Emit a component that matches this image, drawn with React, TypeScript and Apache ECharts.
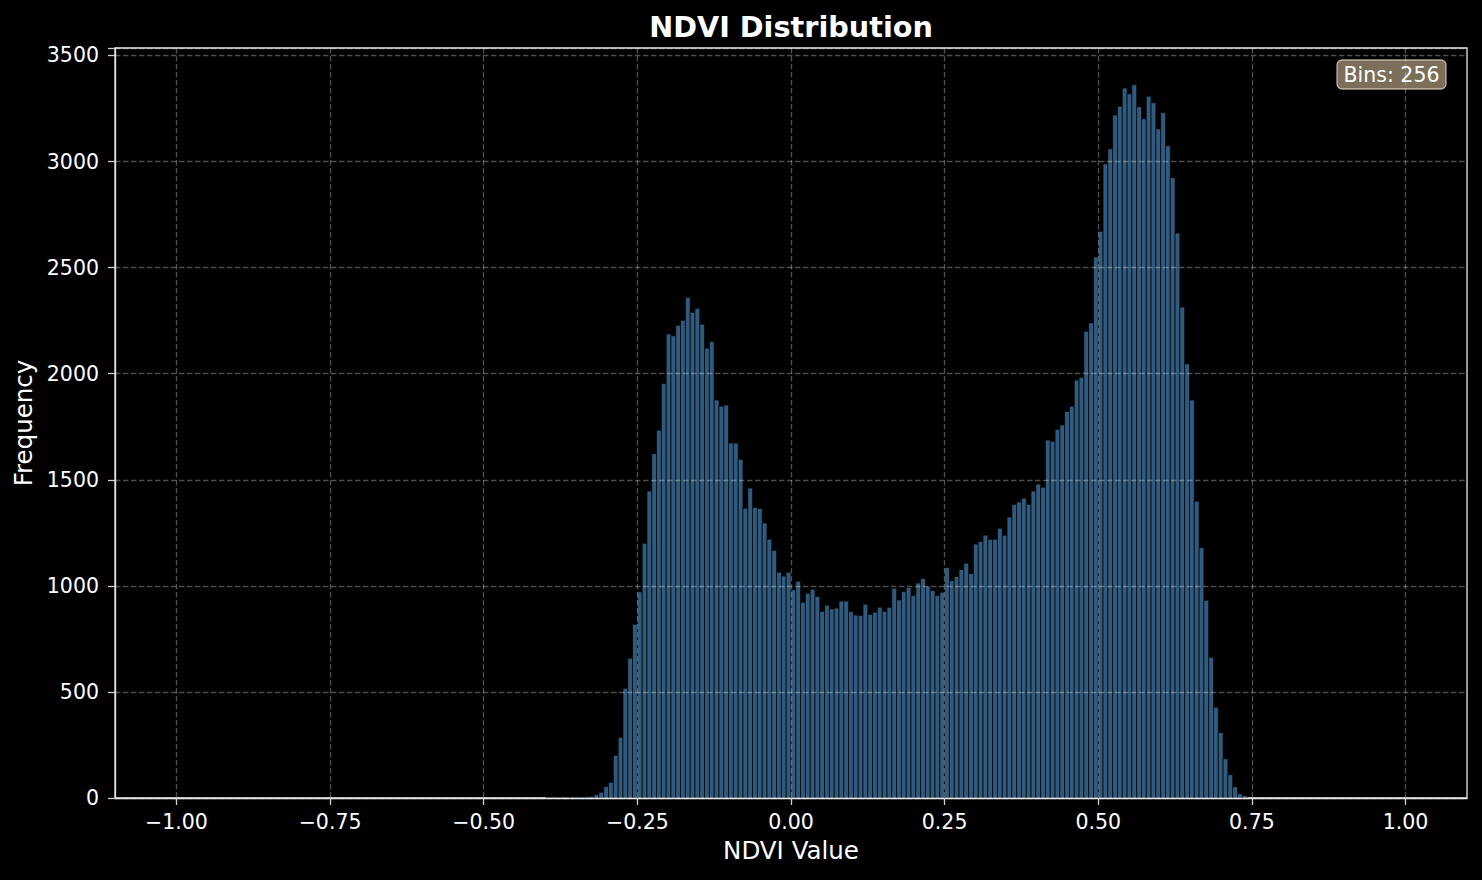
import React, { useEffect, useRef } from "react";
import * as echarts from "echarts";

// Histogram definition: 256 bins over [-1, 1]
const binRangeMin = -1;
const binRangeMax = 1;
const binCount = 256;
// index of the first non-empty bin, followed by the counts
const firstBin = 77;
const counts = [
  4, 0, 4, 0, 5, 5, 5, 4, 6, 8,
  17, 27, 54, 74, 201, 286, 517, 659, 819, 972,
  1201, 1447, 1623, 1733, 1954, 2187, 2179, 2228, 2252, 2360,
  2289, 2308, 2233, 2120, 2151, 1876, 1847, 1852, 1673, 1673,
  1597, 1366, 1461, 1369, 1365, 1296, 1220, 1168, 1064, 1046,
  1064, 981, 1022, 923, 965, 984, 950, 880, 909, 891,
  895, 928, 928, 879, 862, 860, 913, 866, 876, 899,
  880, 899, 989, 934, 973, 992, 954, 1013, 1035, 998,
  978, 954, 970, 1086, 1025, 1044, 1077, 1107, 1058, 1197,
  1209, 1239, 1219, 1219, 1272, 1238, 1324, 1384, 1395, 1413,
  1384, 1447, 1480, 1465, 1687, 1681, 1737, 1758, 1822, 1846,
  1970, 1983, 2200, 2239, 2550, 2671, 2989, 3060, 3219, 3261,
  3346, 3319, 3362, 3258, 3201, 3308, 3277, 3154, 3230, 3074,
  2924, 2663, 2314, 2046, 1876, 1399, 1180, 932, 663, 428,
  308, 185, 110, 53, 20, 11,
];
const xTicks = [-1, -0.75, -0.5, -0.25, 0, 0.25, 0.5, 0.75, 1];
const yTicks = [0, 500, 1000, 1500, 2000, 2500, 3000, 3500];

const titleText = "NDVI Distribution";
const xName = "NDVI Value";
const yName = "Frequency";
const binsLabel = "Bins: 256";

const FONT = "DejaVu Sans, Liberation Sans, sans-serif";

export default function App() {
  const ref = useRef<HTMLDivElement>(null);
  useEffect(() => {
    if (!ref.current) return;
    const chart = echarts.init(ref.current, null, { renderer: "svg" });
    const binWidth = (binRangeMax - binRangeMin) / binCount;
    const data = counts.map((c, i) => {
      const k = firstBin + i;
      const x0 = binRangeMin + k * binWidth;
      return [x0, x0 + binWidth, c];
    });
    const gridColor = "rgba(255,255,255,0.3)";
    const fmtX = (v: number) => v.toFixed(2).replace("-", "\u2212");
    chart.setOption({
      animation: false,
      backgroundColor: "#000000",
      textStyle: { fontFamily: FONT },
      grid: {
        left: 115,
        top: 48,
        width: 1352,
        height: 750,
        show: true,
        borderColor: "#e6e6e6",
        borderWidth: 1.3,
        backgroundColor: "transparent",
        containLabel: false,
      },
      xAxis: {
        type: "value",
        min: -1.1,
        max: 1.1,
        z: 5,
        name: xName,
        nameLocation: "middle",
        nameGap: 40,
        nameTextStyle: { color: "#ffffff", fontSize: 24.5, fontFamily: FONT },
        axisLine: { show: true, onZero: false, lineStyle: { color: "#e6e6e6", width: 1.3 } },
        axisTick: {
          show: true,
          length: 7,
          customValues: xTicks,
          lineStyle: { color: "#d0d0d0", width: 1.3 },
        },
        axisLabel: {
          show: true,
          customValues: xTicks,
          formatter: fmtX,
          color: "#ffffff",
          fontSize: 20.5,
          margin: 13,
          fontFamily: FONT,
        },
        splitLine: {
          show: true,
          lineStyle: { color: gridColor, type: [5.5, 2.5], width: 1.3 },
        },
      },
      yAxis: {
        type: "value",
        min: 0,
        max: 3535,
        interval: 500,
        z: 5,
        name: yName,
        nameLocation: "middle",
        nameGap: 70,
        nameTextStyle: { color: "#ffffff", fontSize: 24.5, fontFamily: FONT },
        axisLine: { show: true, onZero: false, lineStyle: { color: "#e6e6e6", width: 1.3 } },
        axisTick: { show: true, length: 7, lineStyle: { color: "#d0d0d0", width: 1.3 } },
        axisLabel: {
          show: true,
          color: "#ffffff",
          fontSize: 20.5,
          margin: 16,
          fontFamily: FONT,
          showMaxLabel: true,
          formatter: (v: number) => (yTicks.includes(v) ? String(v) : ""),
        },
        splitLine: {
          show: true,
          lineStyle: { color: gridColor, type: [5.5, 2.5], width: 1.3 },
        },
      },
      graphic: [
        {
          type: "text",
          x: 791,
          y: 27,
          style: {
            text: titleText,
            fill: "#ffffff",
            font: `bold 28.7px ${FONT}`,
            textAlign: "center",
            textVerticalAlign: "middle",
          },
          z: 10,
        },
        {
          type: "rect",
          shape: { x: 1337, y: 60, width: 109, height: 29, r: 5 },
          style: { fill: "rgba(245,222,179,0.5)", stroke: "rgba(225,215,195,0.75)", lineWidth: 1.3 },
          z: 10,
        },
        {
          type: "text",
          x: 1391.5,
          y: 74.5,
          style: {
            text: binsLabel,
            fill: "#ffffff",
            font: `20.5px ${FONT}`,
            textAlign: "center",
            textVerticalAlign: "middle",
          },
          z: 11,
        },
      ],
      series: [
        {
          type: "custom",
          z: 2,
          encode: { x: [0, 1], y: 2 },
          data,
          renderItem: (params: any, api: any) => {
            const x0 = api.value(0);
            const x1 = api.value(1);
            const c = api.value(2);
            const p0 = api.coord([x0, c]);
            const p1 = api.coord([x1, 0]);
            return {
              type: "rect",
              shape: { x: p0[0], y: p0[1], width: p1[0] - p0[0], height: p1[1] - p0[1] },
              style: { fill: "rgba(70,130,180,0.7)", stroke: "#000000", lineWidth: 0.7 },
            };
          },
        },
      ],
    });
    return () => chart.dispose();
  }, []);
  return (
    <div
      ref={ref}
      style={{ position: "absolute", left: 0, top: 0, width: 1482, height: 880, background: "#000" }}
    />
  );
}
